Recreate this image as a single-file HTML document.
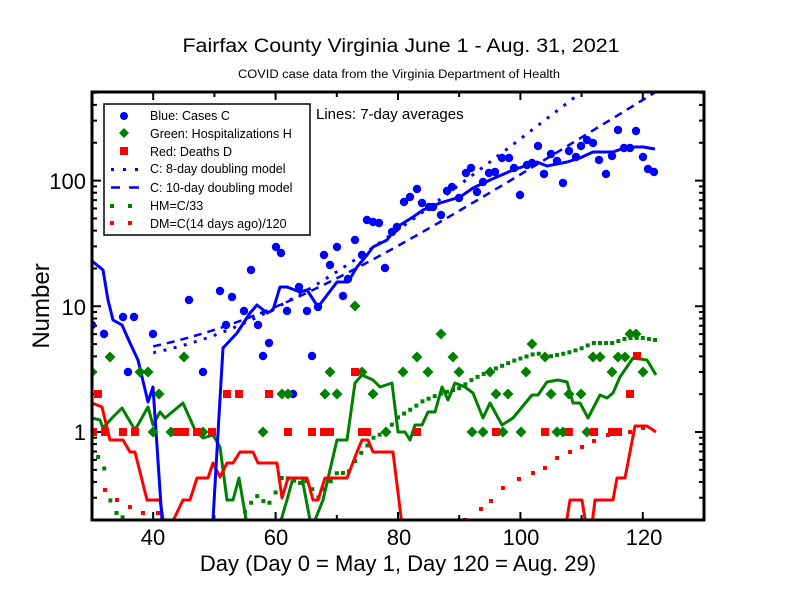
<!DOCTYPE html>
<html><head><meta charset="utf-8"><style>
html,body{margin:0;padding:0;background:#fff;}
svg{display:block;font-family:"Liberation Sans",sans-serif;}
</style></head><body>
<svg id="s" width="792" height="612" viewBox="0 0 792 612" xmlns="http://www.w3.org/2000/svg">
<defs><clipPath id="c"><rect x="92" y="92" width="612" height="428"/></clipPath></defs>
<text x="401" y="52" font-size="19" text-anchor="middle" textLength="437" lengthAdjust="spacingAndGlyphs">Fairfax County Virginia June 1 - Aug. 31, 2021</text>
<text x="399" y="78" font-size="11.5" text-anchor="middle" textLength="322" lengthAdjust="spacingAndGlyphs">COVID case data from the Virginia Department of Health</text>
<g id="ticks" stroke="#000" stroke-width="2"></g>
<g id="data" clip-path="url(#c)"></g>
<rect x="92" y="92" width="612" height="428" fill="none" stroke="#000" stroke-width="3"/>
<text x="316" y="119" font-size="15">Lines: 7-day averages</text>
<g id="leg">
<rect x="104" y="104" width="206" height="131" fill="#fff" stroke="#000" stroke-width="1.5"/>
<g font-size="12.5">
<text x="150" y="120">Blue: Cases C</text>
<text x="150" y="138">Green: Hospitalizations H</text>
<text x="150" y="156">Red: Deaths D</text>
<text x="150" y="173">C: 8-day doubling model</text>
<text x="150" y="192">C: 10-day doubling model</text>
<text x="150" y="210">HM=C/33</text>
<text x="150" y="228">DM=C(14 days ago)/120</text>
</g>
<circle cx="124" cy="116" r="4" fill="#0000ff"/>
<path d="M124 128 l5 5 l-5 5 l-5 -5z" fill="#008000"/>
<rect x="120" y="147" width="8" height="8" fill="#ff0000"/>
<g fill="#0000ff"><rect x="111" y="168" width="3" height="3"/><rect x="123" y="168" width="3" height="3"/><rect x="135" y="168" width="3" height="3"/></g>
<path d="M111 187.5 h9 M129 187.5 h10" stroke="#0000ff" stroke-width="2.5"/>
<g fill="#008000"><rect x="110" y="204" width="4" height="4"/><rect x="128" y="204" width="4" height="4"/></g>
<g fill="#ff0000"><rect x="110" y="221" width="4" height="4"/><rect x="128" y="221" width="4" height="4"/></g>
</g>
<g font-size="22" text-anchor="middle">
<text x="153" y="545">40</text><text x="276" y="545">60</text><text x="399" y="545">80</text><text x="521" y="545">100</text><text x="644" y="545">120</text>
</g>
<g font-size="22" text-anchor="end">
<text x="86" y="189">100</text><text x="86" y="315">10</text><text x="86" y="440">1</text>
</g>
<text x="398" y="571" font-size="22" text-anchor="middle">Day (Day 0 = May 1, Day 120 = Aug. 29)</text>
<text transform="translate(49,306) rotate(-90)" font-size="24" text-anchor="middle">Number</text>
</svg>
<script>
const NS="http://www.w3.org/2000/svg";
const X=d=>92+(d-30)*6.12, Y=v=>432-Math.log10(v)*125.7;
const T=document.getElementById('ticks'), D=document.getElementById('data');
function el(p,tag,a){const e=document.createElementNS(NS,tag);for(const k in a)e.setAttribute(k,a[k]);p.appendChild(e);return e;}
let p="";
for(let d=40;d<=130;d+=10){const x=X(d);const L=(d%20==0)?8:5;p+=`M${x} 520v-${L}M${x} 92v${L}`;}
for(let e=-1;e<=2;e++)for(let m=1;m<=9;m++){const v=m*Math.pow(10,e);if(v<0.2||v>500)continue;const y=Y(v);const L=m==1?9:5;p+=`M92 ${y}h${L}M704 ${y}h-${L}`;}
el(T,'path',{d:p,fill:'none'});
// models
function model(a,b,dbl,d0,d1,attrs){let s="";for(let d=d0;d<=d1;d+=0.5){const v=a+b*Math.pow(2,(d-40)/dbl);s+=(s?"L":"M")+X(d).toFixed(1)+" "+Y(v).toFixed(1);}el(D,'path',Object.assign({d:s,fill:'none'},attrs));}
model(3.1,1.17,8,40,115,{stroke:'#0000ff','stroke-width':3,'stroke-dasharray':'3 7.5'});
model(3.1,1.7,10,40,122,{stroke:'#0000ff','stroke-width':2.5,'stroke-dasharray':'8 6'});
// blue avg line
const bl=[[92,261],[103,270],[108,300],[113,320],[122,325],[130,343],[138,360],[148,402],[153,387],[162,520],[213,520],[218,433],[223,348],[237,333],[250,313],[257,305],[267,313],[273,310],[280,287],[287,287],[300,292],[307,290],[318,307],[337,282],[348,282],[357,267],[367,255],[373,247],[387,240],[397,227],[413,217],[423,210],[440,203],[460,197],[473,188],[490,180],[513,170],[537,162],[547,166],[567,162],[580,158],[593,152],[613,152],[627,147],[643,147],[655,149]];
const poly=(pts,c,w)=>el(D,'polyline',{points:pts.map(q=>q.join(',')).join(' '),fill:'none',stroke:c,'stroke-width':w,'stroke-linejoin':'round'});
function interp(pts,x){for(let i=1;i<pts.length;i++){if(pts[i][0]>=x){const a=pts[i-1],b=pts[i];return a[1]+(b[1]-a[1])*(x-a[0])/(b[0]-a[0]||1);}}return pts[pts.length-1][1];}
// HM squares
for(let d=30;d<=122;d++){if(d>=41&&d<=51)continue;const x=X(d);const y=interp(bl,x)+191;if(y<=521)el(D,'rect',{x:x-2,y:y-2,width:4,height:4,fill:'#008000'});}
// DM squares
const dm=[[92,482],[105,490],[117,500],[130,507],[143,513],[158,513],[465,520],[481,509],[491,501],[503,488],[519,479],[533,473],[545,468],[557,458],[570,452],[582,447],[594,441],[608,435],[618,432],[630,432],[643,428]];
dm.forEach(q=>el(D,'rect',{x:q[0]-2,y:q[1]-2,width:4,height:4,fill:'#ff0000'}));
// green line
const gl=[[92,418],[100,420],[103,428],[112,418],[122,408],[135,430],[148,407],[153,425],[160,412],[165,418],[183,403],[195,430],[203,438],[213,435],[220,447],[227,500],[233,500],[239,478],[247,525],[280,525],[282,517],[287,500],[293,478],[302,478],[310,520],[315,520],[323,500],[337,440],[347,440],[355,383],[362,375],[373,380],[380,387],[392,383],[398,432],[405,432],[410,440],[415,425],[422,425],[428,412],[435,412],[442,387],[448,400],[455,383],[465,387],[473,393],[483,418],[490,403],[502,425],[513,418],[532,395],[538,395],[547,382],[558,380],[567,382],[573,403],[580,403],[588,418],[600,395],[607,398],[613,393],[620,377],[633,358],[647,360],[656,375]];
poly(gl,'#008000',3);
// red line
const rl=[[92,403],[102,407],[110,440],[123,440],[130,452],[135,452],[147,500],[160,500],[164,525],[171,525],[183,500],[190,500],[197,478],[208,478],[213,463],[220,477],[227,463],[233,463],[240,452],[253,452],[258,463],[277,463],[282,498],[288,478],[307,478],[313,500],[318,500],[325,478],[347,478],[357,452],[362,440],[368,440],[373,452],[393,452],[402,525],[566,525],[570,500],[582,500],[586,525],[592,525],[595,500],[613,500],[617,478],[625,478],[635,426],[647,426],[656,432]];
poly(rl,'#ff0000',3);
poly(bl,'#0000ff',3);
// blue dots
const bd=[[92,325],[104,334],[123,317],[134,317],[153,334],[128,372],[203,372],[226,325],[258,325],[269,343],[263,356],[312,356],[293,394],[189,300],[220,291],[232,297],[244,311],[251,270],[276,247],[281,253],[287,311],[307,311],[299,287],[318,307],[324,255],[330,265],[337,247],[343,296],[348,279],[355,240],[362,255],[367,220],[373,222],[379,223],[385,268],[392,232],[397,227],[404,202],[410,197],[417,189],[422,203],[429,207],[433,207],[441,215],[447,191],[452,187],[459,198],[466,173],[471,168],[477,192],[483,182],[489,173],[495,172],[502,158],[509,158],[514,168],[520,195],[527,165],[532,163],[538,146],[544,174],[551,154],[557,161],[563,183],[569,151],[576,157],[581,146],[587,140],[593,143],[599,160],[606,174],[612,156],[618,130],[624,148],[630,148],[636,131],[643,157],[648,169],[654,172]];
bd.forEach(q=>el(D,'circle',{cx:q[0],cy:q[1],r:4.2,fill:'#0000ff'}));
// green diamonds
const gd=[[110,357],[92,372],[140,372],[148,372],[184,357],[159,394],[153,432],[171,432],[203,432],[263,432],[282,394],[288,394],[330,372],[325,394],[337,394],[373,394],[355,306],[362,372],[386,432],[403,372],[417,357],[428,372],[441,334],[453,357],[459,372],[472,432],[483,432],[490,372],[496,394],[508,394],[503,432],[521,432],[526,372],[532,344],[545,357],[551,394],[557,432],[563,432],[569,394],[581,394],[587,432],[593,357],[600,357],[612,372],[618,357],[625,357],[630,334],[636,334],[643,372]];
gd.forEach(q=>el(D,'path',{d:`M${q[0]} ${q[1]-5.5}l5.5 5.5l-5.5 5.5l-5.5 -5.5z`,fill:'#008000'}));
// red squares
const rd=[[98,394],[93,432],[105,432],[123,432],[135,432],[177,432],[185,432],[197,432],[212,432],[227,394],[239,394],[269,394],[288,432],[312,432],[324,432],[330,432],[355,372],[362,432],[367,432],[417,432],[496,432],[545,432],[569,432],[594,432],[612,432],[618,432],[630,394],[637,356]];
rd.forEach(q=>el(D,'rect',{x:q[0]-4,y:q[1]-4,width:8,height:8,fill:'#ff0000'}));
</script>
</body></html>
